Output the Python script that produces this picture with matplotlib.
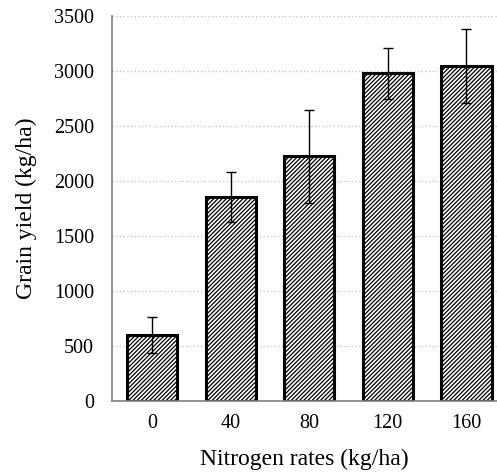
import numpy as np
import matplotlib
matplotlib.use("Agg")
import matplotlib.pyplot as plt

rates = ["0", "40", "80", "120", "160"]
yield_mean = [600, 1855, 2225, 2980, 3045]
yield_err = [165, 225, 420, 232, 337]

plt.rcParams["font.family"] = ["Liberation Serif", "DejaVu Serif"]
plt.rcParams["hatch.linewidth"] = 0.9

fig = plt.figure(figsize=(4.97, 4.74), dpi=100)
ax = fig.add_axes([0.2254, 0.154, 0.7746, 0.812])

x = np.arange(len(rates))
ax.bar(x, yield_mean, width=0.64, color="white", edgecolor="black",
       linewidth=2.2, hatch="////////", zorder=2)
ax.errorbar(x, yield_mean, yerr=yield_err, fmt="none", ecolor="black",
            elinewidth=1, capsize=3.6, capthick=1, zorder=3)

ax.set_xlim(-0.51, 4.39)
ax.set_ylim(0, 3500)
ax.set_yticks(np.arange(0, 3501, 500))
ax.set_xticks(x)
ax.set_xticklabels(rates)
ax.yaxis.grid(True, color="#c8c8c8", linestyle=":", linewidth=1, zorder=0)
ax.set_axisbelow(True)

for s in ["top", "right"]:
    ax.spines[s].set_visible(False)
for s in ["left", "bottom"]:
    ax.spines[s].set_color("#808080")
    ax.spines[s].set_linewidth(1.2)
ax.tick_params(length=0, labelsize=14.5)
ax.tick_params(axis="x", pad=9)
ax.tick_params(axis="y", pad=13)

ax.set_xlabel("Nitrogen rates (kg/ha)", fontsize=17, labelpad=12)
ax.set_ylabel("Grain yield (kg/ha)", fontsize=17, labelpad=12)

fig.savefig("out.png", dpi=100)
